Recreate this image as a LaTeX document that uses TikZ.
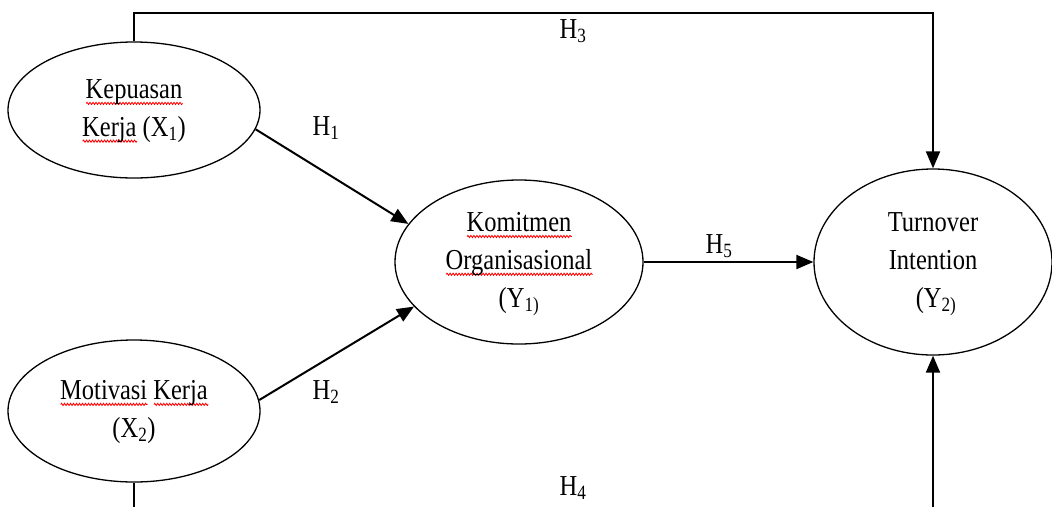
\documentclass[tikz,border=0pt]{standalone}
\usepackage{fontspec}
\setmainfont{Liberation Serif}
\usepackage{graphicx}
\usetikzlibrary{shapes.geometric,arrows.meta,decorations.pathmorphing}
\newsavebox\rwbox
\newcommand\rw[1]{\sbox\rwbox{#1}\rlap{\tikz[x=1pt,y=1pt,baseline=0pt]\draw[red,line width=0.8pt,decorate,decoration={snake,amplitude=0.9pt,segment length=3pt}] (0pt,-4pt) -- (\wd\rwbox,-4pt);}\usebox\rwbox}
\newcommand\st[1]{\scalebox{1}[1.18]{\begin{tabular}{@{}c@{}}#1\end{tabular}}}
\tikzset{
  latent/.style={ellipse, draw=black, line width=1.3pt, inner sep=0pt, font=\fontsize{24.5}{32}\selectfont},
  hlabel/.style={inner sep=0pt, font=\fontsize{24.5}{32}\selectfont},
  link/.style={line width=2pt, draw=black, -{Triangle[length=17pt,width=14pt]}},
  plain/.style={line width=2pt, draw=black}
}
\begin{document}
\begin{tikzpicture}[x=1pt,y=-1pt]
\useasboundingbox (0,0) rectangle (1052,507);
\node[latent, minimum width=252pt, minimum height=136pt] (x1) at (134,110)
  {\st{\rw{Kepuasan}\\\rw{Kerja} (X\textsubscript{1})}};
\node[latent, minimum width=252pt, minimum height=142pt] (x2) at (134,411)
  {\st{\rw{Motivasi} \rw{Kerja}\\(X\textsubscript{2})}};
\node[latent, minimum width=248pt, minimum height=164pt] (y1) at (519,262)
  {\st{\rw{Komitmen}\\\rw{Organisasional}\\(Y\textsubscript{1)}}};
\node[latent, minimum width=238pt, minimum height=186pt] (y2) at (933,262)
  {\st{Turnover\\Intention\\\ (Y\textsubscript{2)}}};
\coordinate (top) at (0,13);
\coordinate (bot) at (0,507);
\draw[link] (x1.north) -- (x1.north |- top) -- (y2.north |- top) -- (y2.north);
\draw[plain] (x2.south) -- (x2.south |- bot);
\draw[link] (y2.south |- bot) -- (y2.south);
\draw[link] (x1.-9) -- (y1.161);
\draw[link] (x2.5) -- (y1.203);
\draw[link] (y1.east) -- (y2.west);
\node[hlabel] (h1) at (326,128) {\st{H\textsubscript{1}}};
\node[hlabel] (h2) at (326,392) {\st{H\textsubscript{2}}};
\node[hlabel] (h3) at (573,31) {\st{H\textsubscript{3}}};
\node[hlabel] (h4) at (573,488) {\st{H\textsubscript{4}}};
\node[hlabel] (h5) at (719,246) {\st{H\textsubscript{5}}};
\end{tikzpicture}
\end{document}
